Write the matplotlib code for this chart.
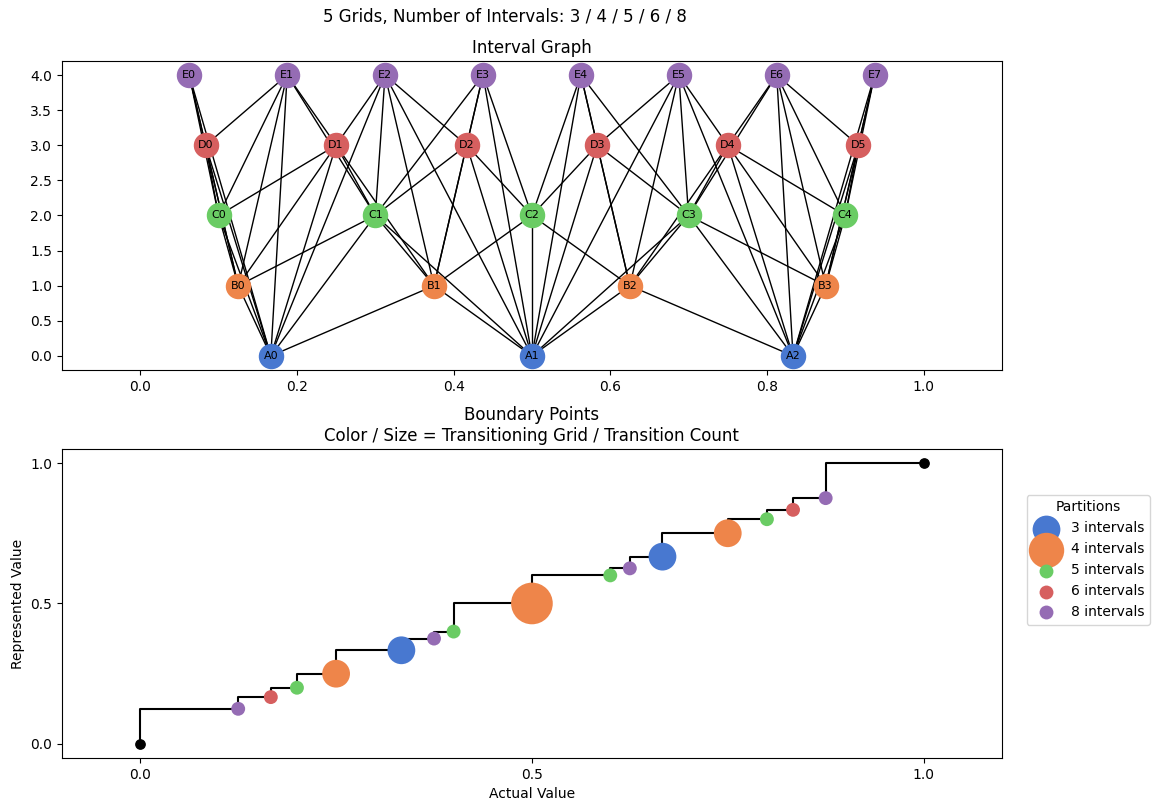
from fractions import Fraction
import matplotlib
matplotlib.use("Agg")
import matplotlib.pyplot as plt

# number of intervals in each grid, and the letter used for its nodes
n_intervals = [3, 4, 5, 6, 8]
prefixes = ["A", "B", "C", "D", "E"]
colors = ["#4878d0", "#ee854a", "#6acc64", "#d65f5f", "#956cb4"]  # seaborn "muted"

# interval bounds of every grid on [0, 1]
grids = [[(Fraction(i, n), Fraction(i + 1, n)) for i in range(n)] for n in n_intervals]

fig = plt.figure(figsize=(11.58, 8.11), dpi=100)
ax1 = fig.add_axes([0.0535, 0.5438, 0.8117, 0.381])
ax2 = fig.add_axes([0.0535, 0.0654, 0.8117, 0.381])
fig.text(0.436, 0.979, "5 Grids, Number of Intervals: 3 / 4 / 5 / 6 / 8",
         ha="center", va="center", fontsize=12)

# ---- interval graph: edge between overlapping intervals of different grids
for g1 in range(len(grids)):
    for g2 in range(g1 + 1, len(grids)):
        for lo1, hi1 in grids[g1]:
            for lo2, hi2 in grids[g2]:
                if lo1 < hi2 and lo2 < hi1:
                    ax1.plot([float(lo1 + hi1) / 2, float(lo2 + hi2) / 2], [g1, g2],
                             color="black", lw=1, zorder=1)

for g, ivs in enumerate(grids):
    xs = [float(lo + hi) / 2 for lo, hi in ivs]
    ax1.scatter(xs, [g] * len(xs), s=300, color=colors[g], zorder=2)
    for i, x in enumerate(xs):
        ax1.text(x, g, f"{prefixes[g]}{i}", ha="center", va="center", fontsize=8, zorder=3)

ax1.set_xlim(-0.1, 1.1)
ax1.set_ylim(-0.2, 4.2)
ax1.set_title("Interval Graph")

# ---- boundary points
owners = {}
for g, n in enumerate(n_intervals):
    for i in range(1, n):
        owners.setdefault(Fraction(i, n), []).append(g)
bounds = sorted(owners)

steps = [0.0] + [float(b) for b in bounds] + [1.0]
ax2.plot(steps, steps, drawstyle="steps-pre", color="black", lw=1.5, zorder=1)
ax2.scatter([0, 1], [0, 1], s=45, color="black", zorder=2)

for g, n in enumerate(n_intervals):
    pts = [b for b in bounds if owners[b][0] == g]
    sizes = [100 * len(owners[b]) ** 2 for b in pts]
    ax2.scatter([float(b) for b in pts], [float(b) for b in pts], s=sizes,
                color=colors[g], lw=0, zorder=3, label=f"{n} intervals")

ax2.set_xlim(-0.1, 1.1)
ax2.set_ylim(-0.05, 1.05)
ax2.set_xticks([0, 0.5, 1.0])
ax2.set_yticks([0, 0.5, 1.0])
ax2.set_title("Boundary Points\nColor / Size = Transitioning Grid / Transition Count")
ax2.set_xlabel("Actual Value")
ax2.set_ylabel("Represented Value")
ax2.legend(title="Partitions", loc="upper left", bbox_to_anchor=(1.019, 0.874))

fig.savefig("out.png", dpi=100)
